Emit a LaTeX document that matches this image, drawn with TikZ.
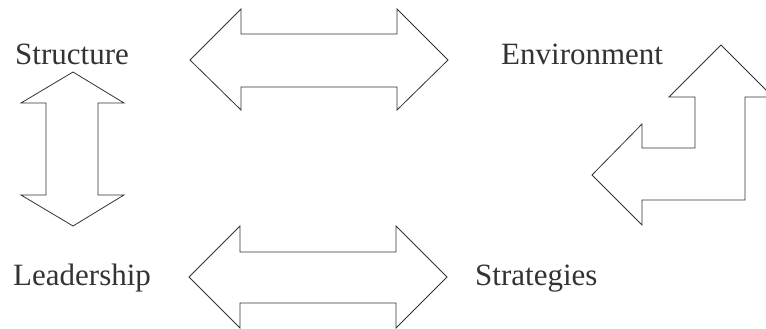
\documentclass[tikz,border=0pt]{standalone}
\usepackage{fontspec}
\setmainfont{Liberation Serif}
\begin{document}
\begin{tikzpicture}[x=1pt,y=-1pt,
  lbl/.style={anchor=base west,inner sep=0pt,font=\fontsize{31}{36}\selectfont,text=black!80},
  blockarrow/.style={draw=black!80,line width=0.8pt,line join=miter,fill=white}]
\useasboundingbox (0,0) rectangle (766,329);
\clip (0,0) rectangle (766,329);
% labels
\node[lbl] (structure) at (15,65) {Structure};
\node[lbl] (environment) at (501,65) {Environment};
\node[lbl] (leadership) at (13,285) {Leadership};
\node[lbl] (strategies) at (475,285) {Strategies};
% top double arrow
\draw[blockarrow] (190,60) -- (241,9) -- (241,34) -- (397,34) -- (397,9) -- (448,60)
  -- (397,110) -- (397,87) -- (241,87) -- (241,110) -- cycle;
% bottom double arrow
\draw[blockarrow] (189,277) -- (240,226) -- (240,252) -- (396,252) -- (396,226) -- (447,277)
  -- (396,328) -- (396,303) -- (240,303) -- (240,328) -- cycle;
% left vertical double arrow
\draw[blockarrow] (73,72) -- (124,103) -- (98,103) -- (98,195) -- (124,195) -- (73,226)
  -- (21,195) -- (46,195) -- (46,103) -- (21,103) -- cycle;
% bent arrow
\draw[blockarrow] (721,45) -- (773,97) -- (745,97) -- (745,200) -- (642,200) -- (642,225)
  -- (592,175) -- (642,124) -- (642,148) -- (695,148) -- (695,97) -- (669,97) -- cycle;
\end{tikzpicture}
\end{document}
